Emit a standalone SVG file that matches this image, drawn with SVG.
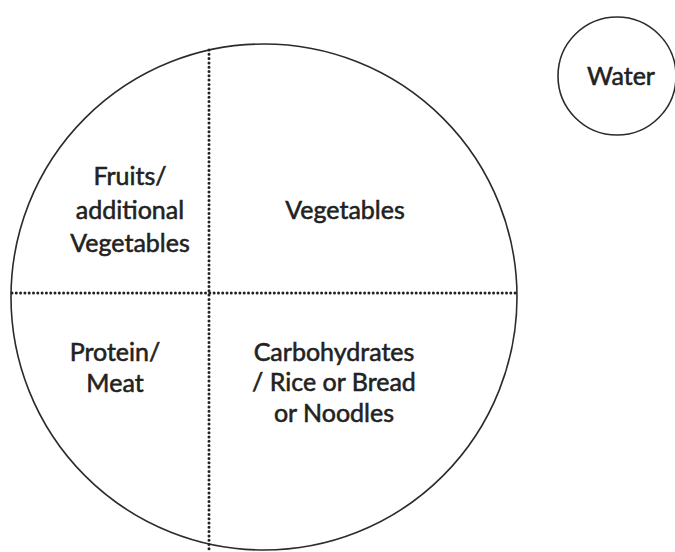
<svg xmlns="http://www.w3.org/2000/svg" width="675" height="552" viewBox="0 0 675 552">
<style>
.ring{fill:none;stroke:#2b2b2b;stroke-width:1.6}
.dot{stroke:#222;stroke-width:3;stroke-linecap:round;stroke-dasharray:0 4.3;fill:none}
.lbl{font-family:Lato,"Open Sans","Liberation Sans",sans-serif;font-size:25px;fill:#222;stroke:#222;stroke-width:0.55;text-anchor:middle}
</style>
<rect width="675" height="552" fill="#fff"/>
<g id="plate"><circle class="ring" cx="264" cy="297" r="253"/></g>
<g id="dividers">
<line class="dot" x1="209" y1="50" x2="209" y2="552"/>
<line class="dot" x1="12" y1="293" x2="518" y2="293"/>
</g>
<g id="fruits"><text class="lbl" x="130" y="185">Fruits/</text><text class="lbl" x="130" y="219">additional</text><text class="lbl" x="130" y="252">Vegetables</text></g>
<g id="vegetables"><text class="lbl" x="345" y="219">Vegetables</text></g>
<g id="protein"><text class="lbl" x="115" y="361">Protein/</text><text class="lbl" x="115" y="392">Meat</text></g>
<g id="carbs"><text class="lbl" x="334" y="361">Carbohydrates</text><text class="lbl" x="334" y="391">/ Rice or Bread</text><text class="lbl" x="334" y="422">or Noodles</text></g>
<g id="water"><circle class="ring" cx="617" cy="76" r="59"/><text class="lbl" x="621" y="85">Water</text></g>
</svg>
